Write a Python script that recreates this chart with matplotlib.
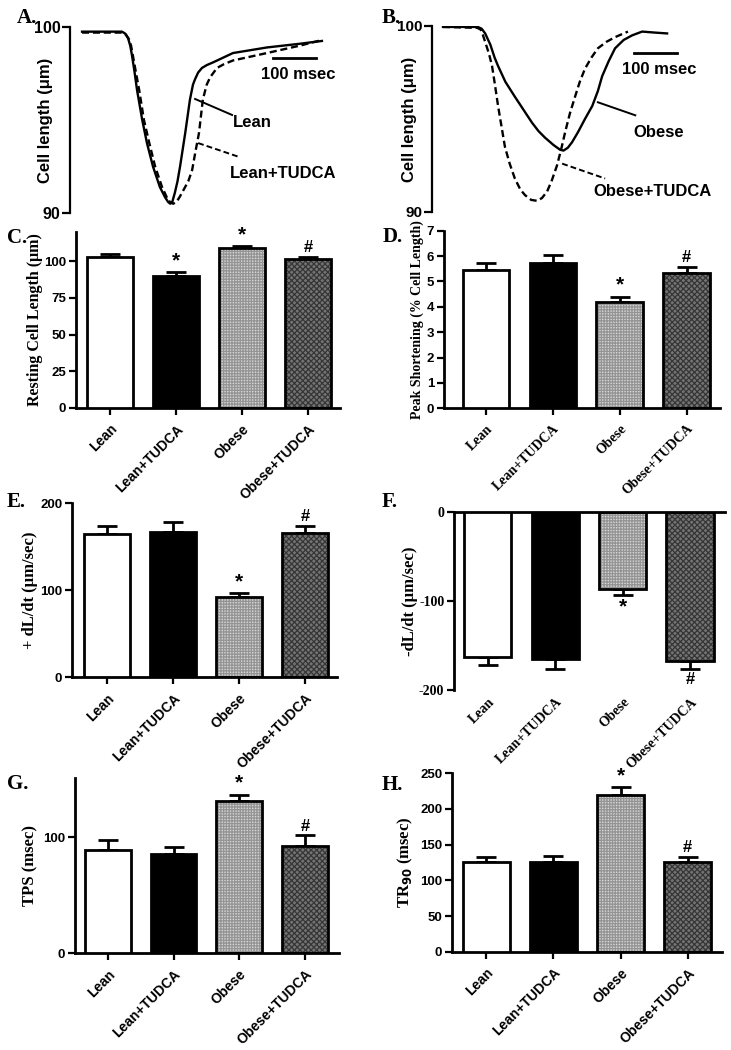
import matplotlib
matplotlib.use("Agg")
import matplotlib.pyplot as plt
import numpy as np

# ---------------- data ----------------
groups = ["Lean", "Lean+TUDCA", "Obese", "Obese+TUDCA"]

# Panel A traces (time ms, cell length um)
lean_t = [0, 93, 100, 107, 112, 116, 122, 128, 140, 151, 165, 181, 193, 200, 205, 210, 216, 222, 228, 240, 251, 258, 263, 270, 279, 290, 305, 351, 430, 507, 558]
lean_y = [99.75, 99.75, 99.65, 99.4, 99.0, 98.5, 97.6, 96.6, 95.0, 93.76, 92.5, 91.4, 90.85, 90.6, 90.5, 90.6, 91.1, 91.7, 92.5, 94.3, 96.1, 96.9, 97.2, 97.55, 97.8, 97.95, 98.1, 98.6, 98.9, 99.1, 99.25]
leant_t = [0, 93, 102, 109, 114, 118, 125, 133, 144, 156, 170, 186, 200, 207, 212, 220, 228, 247, 256, 263, 272, 281, 290, 298, 314, 330, 351, 430, 507, 558]
leant_y = [99.7, 99.7, 99.6, 99.35, 99.0, 98.5, 97.6, 96.6, 95.0, 93.8, 92.5, 91.4, 90.7, 90.55, 90.5, 90.6, 90.9, 91.7, 92.3, 93.2, 94.3, 96.1, 96.9, 97.3, 97.8, 98.0, 98.2, 98.6, 99.0, 99.3]

# Panel B traces
obese_t = [0, 81, 90, 98, 110, 120, 128, 145, 167, 187, 207, 222, 237, 257, 272, 280, 290, 300, 314, 330, 347, 360, 370, 385, 400, 420, 440, 463, 490, 521]
obese_y = [99.95, 99.95, 99.85, 99.6, 99.0, 98.3, 97.85, 97.0, 96.2, 95.5, 94.8, 94.35, 94.0, 93.6, 93.35, 93.3, 93.45, 93.75, 94.3, 95.0, 95.7, 96.5, 97.3, 98.1, 98.8, 99.25, 99.5, 99.7, 99.65, 99.6]
obeset_t = [0, 80, 88, 93, 100, 107, 114, 121, 128, 136, 144, 155, 167, 180, 191, 205, 219, 230, 242, 253, 265, 275, 284, 295, 307, 318, 330, 345, 360, 380, 400, 430]
obeset_y = [99.95, 99.9, 99.8, 99.5, 99.0, 98.5, 97.85, 96.8, 95.7, 94.6, 93.5, 92.6, 91.8, 91.2, 90.9, 90.65, 90.6, 90.75, 91.1, 91.7, 92.5, 93.4, 94.3, 95.3, 96.2, 97.0, 97.7, 98.3, 98.8, 99.15, 99.4, 99.7]

# Bar panels: means and SEM
rcl_mean = [102.7, 90.0, 109.2, 101.4]
rcl_sem = [1.9, 2.7, 1.3, 1.3]
ps_mean = [5.45, 5.71, 4.20, 5.32]
ps_sem = [0.29, 0.33, 0.20, 0.26]
pdl_mean = [164.4, 167.4, 92.6, 165.5]
pdl_sem = [9.9, 11.5, 4.6, 8.8]
ndl_mean = [-162.9, -165.5, -87.2, -167.8]
ndl_sem = [8.6, 11.5, 6.4, 8.6]
tps_mean = [89.4, 85.9, 131.1, 92.2]
tps_sem = [8.6, 5.5, 5.9, 9.5]
tr90_mean = [125.3, 126.1, 219.6, 125.3]
tr90_sem = [7.0, 8.0, 10.8, 7.9]

sig_c = ["", "*", "*", "#"]
sig_other = ["", "", "*", "#"]

# ---------------- style ----------------
W, H = 731, 1050
plt.rcParams["axes.unicode_minus"] = False
plt.rcParams["hatch.linewidth"] = 0.9
fig = plt.figure(figsize=(W / 100, H / 100), dpi=100)
SANS = "Liberation Sans"
SERIF = "Liberation Serif"

def ax_px(left, top, right, bottom):
    return fig.add_axes([left / W, 1 - bottom / H, (right - left) / W, (bottom - top) / H])

def letter(x, y, s):
    fig.text(x / W, 1 - y / H, s, fontsize=15, fontweight="bold", family=SERIF, va="baseline", ha="left")

# ---------------- trace panels ----------------
def trace_panel(box, xlim, t1, y1, t2, y2, lab1, lab2, lab_pos, bar_pos, tick_fs, ylab_right):
    ax = ax_px(*box)
    ax.plot(t1, y1, color="black", lw=1.7, solid_joinstyle="round")
    ax.plot(t2, y2, color="black", lw=1.7, ls=(0, (3, 1.6)))
    ax.set_xlim(*xlim)
    ax.set_ylim(90, 100)
    for s in ["top", "right", "bottom"]:
        ax.spines[s].set_visible(False)
    ax.spines["left"].set_linewidth(1.6)
    ax.set_xticks([])
    ax.set_yticks([90, 100])
    ax.tick_params(axis="y", length=6, width=1.6, direction="out", pad=1)
    for lbl in ax.get_yticklabels():
        lbl.set_fontfamily(SANS); lbl.set_fontweight("bold"); lbl.set_fontsize(tick_fs)
    ax.set_ylabel("Cell length (\u03bcm)", fontsize=12, fontweight="bold", family=SANS)
    ax.yaxis.set_label_coords((ylab_right - box[0]) / (box[2] - box[0]), 0.5)
    # scale bar
    bx0, bx1, by = bar_pos
    ax.plot([bx0, bx1], [by, by], color="black", lw=2)
    ax.text(bx0 - 28, by - 0.5, "100 msec", fontsize=12, fontweight="bold", family=SANS, va="top", ha="left")
    # labels with leaders
    (l1x, l1y, a1, b1), (l2x, l2y, a2, b2) = lab_pos
    ax.text(l1x, l1y, lab1, fontsize=12, fontweight="bold", family=SANS, va="center", ha="left")
    ax.plot([a1[0], b1[0]], [a1[1], b1[1]], color="black", lw=1.4)
    ax.text(l2x, l2y, lab2, fontsize=12, fontweight="bold", family=SANS, va="center", ha="left")
    ax.plot([a2[0], b2[0]], [a2[1], b2[1]], color="black", lw=1.4, ls=(0, (3, 1.6)))
    return ax

trace_panel((70, 27, 340, 213), (-28, 600), lean_t, lean_y, leant_t, leant_y,
            "Lean", "Lean+TUDCA",
            ((351, 94.84, (263, 96.13), (349, 95.27)), (344, 92.15, (270, 93.76), (367, 93.0))),
            (444, 544, 98.33), 11.5, 53)
trace_panel((432, 26, 720, 212), (-25.6, 644), obese_t, obese_y, obeset_t, obeset_y,
            "Obese", "Obese+TUDCA",
            ((442, 94.3, (360, 95.9), (447, 95.2)), (349, 91.1, (277, 92.6), (377, 91.8))),
            (444, 544, 98.55), 11, 417)

letter(17, 23, "A.")
letter(382, 23, "B.")

# ---------------- bar panels ----------------
fills = [("white", None, None), ("black", None, None),
         ("#d4d4d4", "#949494", "++++++"), ("#747474", "#363636", "xxxxxx")]

def bar_panel(box, xlim, ylim, yticks, means, sems, sig, ylabel, tick_font, xtick_font,
              ylab_right, ylab_fs=12, negative=False, ytick_fs=9.5, sig_fs=15):
    ax = ax_px(*box)
    x = np.arange(len(groups))
    for i in range(len(groups)):
        face, hc, hatch = fills[i]
        if hatch:
            ax.bar(x[i], means[i], width=0.7, color=face, edgecolor=hc, hatch=hatch, linewidth=0, zorder=2)
            ax.bar(x[i], means[i], width=0.7, fill=False, edgecolor="black", linewidth=2, zorder=3)
        else:
            ax.bar(x[i], means[i], width=0.7, color=face, edgecolor="black", linewidth=2, zorder=3)
    zeros = [0] * len(groups)
    yerr = [sems, zeros] if negative else [zeros, sems]
    ax.errorbar(x, means, yerr=yerr, fmt="none", ecolor="black", elinewidth=2, capsize=7, capthick=2, zorder=1)
    span = ylim[1] - ylim[0]
    for i, s in enumerate(sig):
        if not s:
            continue
        fs = sig_fs if s == "*" else 12
        if negative:
            ax.text(x[i], means[i] - sems[i] - 0.015 * span, s, ha="center", va="top",
                    fontsize=fs, fontweight="bold", family=SANS)
        else:
            ax.text(x[i], means[i] + sems[i] + 0.01 * span, s, ha="center", va="bottom",
                    fontsize=fs, fontweight="bold", family=SANS)
    ax.set_xlim(*xlim)
    ax.set_ylim(*ylim)
    ax.set_yticks(yticks)
    ax.set_xticks(x)
    ax.set_xticklabels(groups, rotation=45, ha="right", rotation_mode="anchor")
    ax.spines["right"].set_visible(False)
    ax.spines["left"].set_linewidth(2)
    if negative:
        ax.spines["bottom"].set_visible(False)
        ax.spines["top"].set_linewidth(2)
        ax.tick_params(axis="x", length=0, pad=4)
    else:
        ax.spines["top"].set_visible(False)
        ax.spines["bottom"].set_linewidth(2)
        ax.tick_params(axis="x", length=5, width=1.6, direction="out", pad=5)
    ax.tick_params(axis="y", length=5, width=1.6, direction="out", pad=2)
    for lbl in ax.get_yticklabels():
        lbl.set_fontfamily(tick_font); lbl.set_fontweight("bold"); lbl.set_fontsize(ytick_fs)
    for lbl in ax.get_xticklabels():
        lbl.set_fontfamily(xtick_font); lbl.set_fontweight("bold"); lbl.set_fontsize(10)
    ax.set_ylabel(ylabel, fontsize=ylab_fs, fontweight="bold", family=SERIF)
    ax.yaxis.set_label_coords((ylab_right - box[0]) / (box[2] - box[0]), 0.5)
    return ax

bar_panel((76, 231.7, 340, 408), (-0.515, 3.48), (0, 120), [0, 25, 50, 75, 100],
          rcl_mean, rcl_sem, sig_c, "Resting Cell Length (\u03bcm)", SANS, SANS, 43, ylab_fs=11.5)
bar_panel((444, 230.7, 720, 408.3), (-0.63, 3.5), (0, 7), [0, 1, 2, 3, 4, 5, 6, 7],
          ps_mean, ps_sem, sig_other, "Peak Shortening (% Cell Length)", SANS, SERIF, 424, ylab_fs=10)
bar_panel((72, 503.3, 337, 677.3), (-0.53, 3.48), (0, 200), [0, 100, 200],
          pdl_mean, pdl_sem, sig_other, "+ dL/dt (\u03bcm/sec)", SANS, SANS, 38)
bar_panel((454, 511.7, 725, 690), (-0.5, 3.52), (-200, 0), [-200, -100, 0],
          ndl_mean, ndl_sem, sig_other, "-dL/dt (\u03bcm/sec)", SERIF, SERIF, 418, negative=True, ytick_fs=10)
bar_panel((75, 778.3, 339, 953.3), (-0.5, 3.52), (0, 151), [0, 100],
          tps_mean, tps_sem, sig_other, "TPS (msec)", SANS, SANS, 38)
bar_panel((452, 773.3, 722, 951.7), (-0.51, 3.51), (0, 250), [0, 50, 100, 150, 200, 250],
          tr90_mean, tr90_sem, sig_other, "TR$_{\\mathbf{90}}$ (msec)", SANS, SANS, 415)

letter(7, 243, "C.")
letter(383, 242, "D.")
letter(7, 507, "E.")
letter(382, 507, "F.")
letter(7, 789, "G.")
letter(382, 790, "H.")

fig.savefig("out.png", dpi=100)
